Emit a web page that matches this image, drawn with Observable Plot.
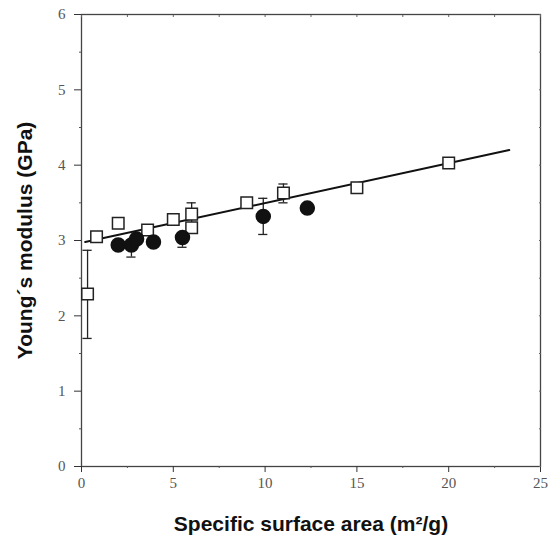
<!DOCTYPE html>
<html><head><meta charset="utf-8">
<script src="https://cdn.jsdelivr.net/npm/d3@7"></script>
<script src="https://cdn.jsdelivr.net/npm/@observablehq/plot@0.6"></script>
<style>body{margin:0;background:#fff}</style>
</head><body><div id="chart"></div>
<script>
const squareX = [0.33, 0.82, 2.0, 3.6, 5.0, 6.0, 6.0, 9.0, 11.0, 15.0, 20.0];
const squareY = [2.29, 3.05, 3.23, 3.14, 3.28, 3.35, 3.17, 3.50, 3.63, 3.70, 4.03];
const circleX = [2.0, 2.72, 3.0, 3.92, 5.5, 9.9, 12.3];
const circleY = [2.94, 2.94, 3.02, 2.98, 3.04, 3.32, 3.43];
const errX = [0.33, 2.72, 6.0, 5.5, 9.9, 11.0];
const errLow = [1.70, 2.78, 3.17, 2.91, 3.08, 3.50];
const errHigh = [2.87, 2.94, 3.50, 3.04, 3.56, 3.75];
const fitX = [0.2, 23.3];
const fitY = [2.98, 4.20];
const xTicks = [0, 5, 10, 15, 20, 25];
const yTicks = [0, 1, 2, 3, 4, 5, 6];
const xMinor = [2.5, 7.5, 12.5, 17.5, 22.5];
const yMinor = [0.5, 1.5, 2.5, 3.5, 4.5, 5.5];
const xTitle = "Specific surface area (m²/g)";
const yTitle = "Young´s modulus (GPa)";

const squares = squareX.map((x, i) => ({x, y: squareY[i]}));
const circles = circleX.map((x, i) => ({x, y: circleY[i]}));
const errs = errX.map((x, i) => ({x, lo: errLow[i], hi: errHigh[i]}));
const fit = fitX.map((x, i) => ({x, y: fitY[i]}));
const capW = 0.25;

const plot = Plot.plot({
  width: 548, height: 535,
  marginLeft: 81, marginRight: 8, marginTop: 14, marginBottom: 69,
  style: {fontFamily: "Liberation Serif", background: "#fff"},
  x: {domain: [0, 25]},
  y: {domain: [0, 6]},
  marks: [
    Plot.frame({stroke: "#444", strokeWidth: 1.3}),
    Plot.axisX({ticks: xTicks, tickSize: 6, tickPadding: 5, tickFormat: "d", label: null, fontSize: 15, color: "#555", stroke: "#333"}),
    Plot.axisX({ticks: xMinor, tickSize: 2, tickFormat: () => "", label: null, stroke: "#555"}),
    Plot.axisX({anchor: "top", ticks: [...xTicks, ...xMinor], tickSize: -2, tickFormat: () => "", label: null, stroke: "#666"}),
    Plot.axisY({ticks: yTicks, tickSize: 7, tickPadding: 9, tickFormat: "d", label: null, fontSize: 15, color: "#555", stroke: "#333"}),
    Plot.axisY({ticks: yMinor, tickSize: 2, tickFormat: () => "", label: null, stroke: "#555"}),
    Plot.axisY({anchor: "right", ticks: [...yTicks, ...yMinor], tickSize: -2, tickFormat: () => "", label: null, stroke: "#666"}),
    Plot.ruleX(errs, {x: "x", y1: "lo", y2: "hi", stroke: "#222", strokeWidth: 1.3}),
    Plot.ruleY(errs, {y: "lo", x1: d => d.x - capW, x2: d => d.x + capW, stroke: "#222", strokeWidth: 1.3}),
    Plot.ruleY(errs, {y: "hi", x1: d => d.x - capW, x2: d => d.x + capW, stroke: "#222", strokeWidth: 1.3}),
    Plot.line(fit, {x: "x", y: "y", stroke: "#111", strokeWidth: 2}),
    Plot.dot(squares, {x: "x", y: "y", symbol: "square", r: 6.5, fill: "#fff", stroke: "#222", strokeWidth: 1.5}),
    Plot.dot(circles, {x: "x", y: "y", r: 7, fill: "#111", stroke: "#111"}),
    Plot.text([xTitle], {frameAnchor: "bottom", dy: 64, textAnchor: "middle", text: d => d, fontFamily: "Liberation Sans", fontWeight: "bold", fontSize: 21, fill: "#111"}),
    Plot.text([yTitle], {frameAnchor: "left", dx: -56, rotate: -90, textAnchor: "middle", lineAnchor: "middle", text: d => d, fontFamily: "Liberation Sans", fontWeight: "bold", fontSize: 21, fill: "#111"})
  ]
});
document.getElementById("chart").appendChild(plot);
</script>
</body></html>
